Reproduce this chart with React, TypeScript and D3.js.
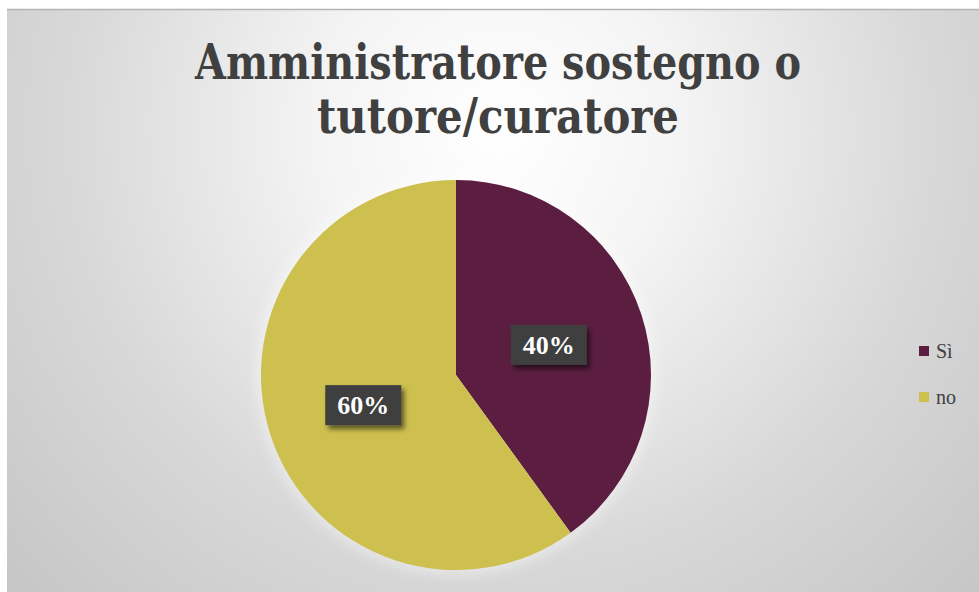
import React, { useMemo } from 'react';
import * as d3 from 'd3';

const WIDTH = 979;
const HEIGHT = 592;
const CENTER = { x: 456, y: 375 };
const RADIUS = 195;

const titleLines = ['Amministratore sostegno o', 'tutore/curatore'];
const categories = ['Sì', 'no'];
const values = [40, 60];
const colors = ['#5b1e40', '#cdc04f'];

type Slice = { label: string; value: number; color: string };

const App = () => {
  const slices: Slice[] = categories.map((c, i) => ({ label: c, value: values[i], color: colors[i] }));

  const arcs = useMemo(() => {
    const pieGen = d3.pie<Slice>().sort(null).value((d) => d.value);
    return pieGen(slices);
  }, []);

  const arcGen = d3.arc<d3.PieArcDatum<Slice>>().innerRadius(0).outerRadius(RADIUS);
  const total = d3.sum(values);

  // legend sits at the right edge, rows spaced by a band scale
  const legendY = d3.scaleBand().domain(categories).range([328, 420]).padding(0);

  return (
    <svg
      width={WIDTH}
      height={HEIGHT}
      style={{ position: 'absolute', left: 0, top: 0 }}
      fontFamily="'DejaVu Serif', 'Liberation Serif', serif"
    >
      <defs>
        <radialGradient id="bg" cx="500" cy="130" r="720" gradientUnits="userSpaceOnUse">
          <stop offset="0" stopColor="#ffffff" />
          <stop offset="0.25" stopColor="#f4f4f4" />
          <stop offset="0.6" stopColor="#d8d8d8" />
          <stop offset="1" stopColor="#c2c2c2" />
        </radialGradient>
        <pattern id="dots" width="4" height="4" patternUnits="userSpaceOnUse">
          <rect width="4" height="4" fill="#3b3b3b" />
          <circle cx="1" cy="1" r="0.8" fill="#505050" />
          <circle cx="3" cy="3" r="0.8" fill="#474747" />
        </pattern>
        <filter id="boxShadow" x="-20%" y="-20%" width="150%" height="160%">
          <feDropShadow dx="3" dy="4" stdDeviation="2.5" floodColor="#000" floodOpacity="0.55" />
        </filter>
        <filter id="pieGlow" x="-20%" y="-20%" width="140%" height="140%">
          <feGaussianBlur in="SourceAlpha" stdDeviation="8" />
          <feFlood floodColor="#ffffff" floodOpacity="0.8" />
          <feComposite operator="in" in2="SourceAlpha" />
          <feMerge>
            <feMergeNode />
            <feMergeNode in="SourceGraphic" />
          </feMerge>
        </filter>
      </defs>

      <rect x={0} y={0} width={WIDTH} height={HEIGHT} fill="#ffffff" />
      <rect x={7} y={9} width={WIDTH - 7} height={HEIGHT - 9} fill="url(#bg)" />
      <line x1={7} x2={WIDTH} y1={9.5} y2={9.5} stroke="#b4b4b4" strokeWidth={1.5} />

      {titleLines.map((t, i) => (
        <text
          key={i}
          x={498}
          y={79 + i * 54}
          textAnchor="middle"
          fontSize={48}
          fontWeight="bold"
          fill="#404040"
          textLength={i === 0 ? 606 : 362}
          lengthAdjust="spacingAndGlyphs"
        >
          {t}
        </text>
      ))}

      <g transform={`translate(${CENTER.x},${CENTER.y})`}>
        <circle r={RADIUS + 6} fill="#ffffff" opacity={0.35} style={{ filter: 'blur(6px)' }} />
        {arcs.map((a, i) => (
          <path key={i} d={arcGen(a) || ''} fill={a.data.color} />
        ))}
        {arcs.map((a, i) => {
          const [cx, cy] = arcGen.centroid(a);
          const w = 76;
          const h = 40;
          return (
            <g key={'l' + i} transform={`translate(${cx},${cy})`}>
              <rect x={-w / 2} y={-h / 2} width={w} height={h} fill="url(#dots)" filter="url(#boxShadow)" />
              <text
                y={9}
                textAnchor="middle"
                fontSize={26}
                fontWeight="bold"
                fill="#ffffff"
                fontFamily="'Liberation Serif', serif"
              >
                {`${Math.round((a.data.value / total) * 100)}%`}
              </text>
            </g>
          );
        })}
      </g>

      {categories.map((c, i) => {
        const y = (legendY(c) || 0) + legendY.bandwidth() / 2;
        return (
          <g key={c} transform={`translate(919,${y})`}>
            <rect x={0} y={-5} width={10} height={10} fill={colors[i]} />
            <text x={17} y={7} fontSize={20} fill="#404040" fontFamily="'Liberation Serif', serif">
              {c}
            </text>
          </g>
        );
      })}
    </svg>
  );
};

export default App;
